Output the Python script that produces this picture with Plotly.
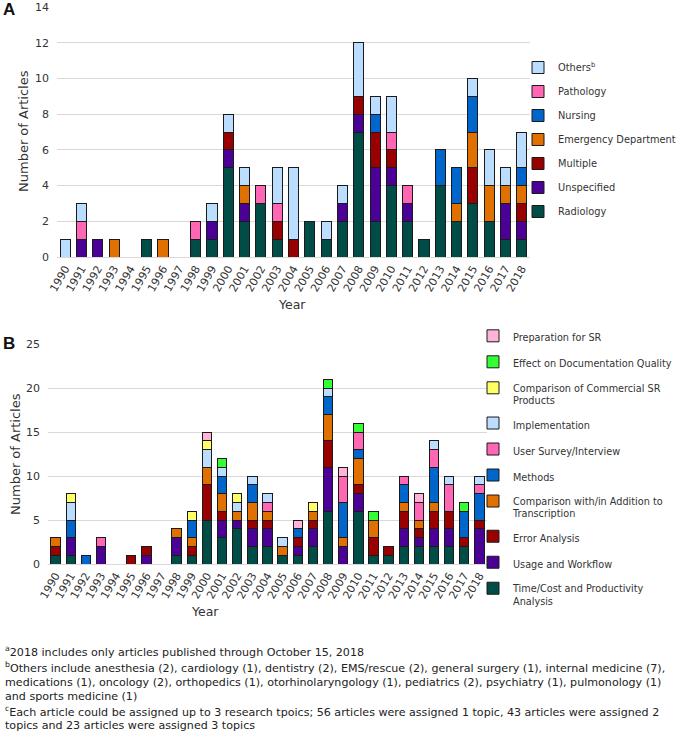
import plotly.graph_objects as go

W, H = 680, 734

years = ["1990", "1991", "1992", "1993", "1994", "1995", "1996", "1997", "1998", "1999",
         "2000", "2001", "2002", "2003", "2004", "2005", "2006", "2007", "2008", "2009",
         "2010", "2011", "2012", "2013", "2014", "2015", "2016", "2017", "2018"]

# ---- Panel A: specialty (stack order bottom -> top)
a_radiology = [0,0,0,0,0,1,0,0,1,1,5,2,3,1,0,2,1,2,7,2,4,2,1,4,2,3,2,1,1]
a_unspecified = [0,1,1,0,0,0,0,0,0,1,1,1,0,0,0,0,0,1,1,3,1,1,0,0,0,0,0,2,1]
a_multiple = [0,0,0,0,0,0,0,0,0,0,1,0,0,1,1,0,0,0,1,2,1,0,0,0,0,2,0,0,1]
a_emergency = [0,0,0,1,0,0,1,0,0,0,0,1,0,0,0,0,0,0,0,0,0,0,0,0,1,2,2,1,1]
a_nursing = [0,0,0,0,0,0,0,0,0,0,0,0,0,0,0,0,0,0,0,1,0,0,0,2,2,2,0,0,1]
a_pathology = [0,1,0,0,0,0,0,0,1,0,0,0,1,1,0,0,0,0,0,0,1,1,0,0,0,0,0,0,0]
a_others = [1,1,0,0,0,0,0,0,0,1,1,1,0,2,4,0,1,1,3,1,2,0,0,0,0,1,2,1,2]

a_names = ["Radiology", "Unspecified", "Multiple", "Emergency Department",
           "Nursing", "Pathology", "Others<sup>b</sup>"]
a_series = [a_radiology, a_unspecified, a_multiple, a_emergency,
            a_nursing, a_pathology, a_others]

# ---- Panel B: research topic (stack order bottom -> top)
b_timecost = [1,1,0,0,0,0,0,0,1,1,5,3,4,2,2,1,1,2,6,0,6,1,1,2,2,2,2,2,0]
b_usage = [0,2,0,2,0,0,1,0,2,0,0,2,1,2,2,0,1,2,5,2,2,0,0,2,1,2,2,0,4]
b_error = [1,0,0,0,0,1,1,0,0,1,4,1,0,1,1,0,1,1,3,0,1,2,1,2,1,2,2,1,1]
b_comp_trans = [1,0,0,0,0,0,0,0,1,1,2,2,1,2,1,1,0,1,3,1,3,2,0,1,1,1,0,0,0]
b_methods = [0,2,1,0,0,0,0,0,0,2,0,2,0,2,0,0,1,0,2,4,1,0,0,2,0,4,0,3,3]
b_survey = [0,0,0,1,0,0,0,0,0,0,0,0,0,0,1,0,0,0,0,3,2,0,0,1,2,2,3,0,1]
b_implementation = [0,2,0,0,0,0,0,0,0,0,2,1,1,1,1,1,0,0,1,0,0,0,0,0,0,1,1,0,1]
b_comp_commercial = [0,1,0,0,0,0,0,0,0,1,1,0,1,0,0,0,0,1,0,0,0,0,0,0,0,0,0,0,0]
b_doc_quality = [0,0,0,0,0,0,0,0,0,0,0,1,0,0,0,0,0,0,1,0,1,1,0,0,0,0,0,1,0]
b_preparation = [0,0,0,0,0,0,0,0,0,0,1,0,0,0,0,0,1,0,0,1,0,0,0,0,1,0,0,0,0]

b_names = ["Time/Cost and Productivity<br>Analysis", "Usage and Workflow", "Error Analysis",
           "Comparison with/in Addition to<br>Transcription", "Methods",
           "User Survey/Interview", "Implementation",
           "Comparison of Commercial SR<br>Products", "Effect on Documentation Quality",
           "Preparation for SR"]
b_series = [b_timecost, b_usage, b_error, b_comp_trans, b_methods, b_survey,
            b_implementation, b_comp_commercial, b_doc_quality, b_preparation]

a_colors = ["#004D47", "#4B0096", "#990000", "#E07000", "#0066CC", "#FF66B3", "#BBDDFF"]
b_colors = ["#004D47", "#4B0096", "#990000", "#E07000", "#0066CC", "#FF66B3", "#BBDDFF",
            "#FFFF66", "#33FF33", "#FFB3D9"]

FONT = "DejaVu Sans"
TXT = "#333333"

fig = go.Figure()
for i, (name, vals, col) in enumerate(zip(a_names, a_series, a_colors)):
    fig.add_bar(x=years, y=[v if v else None for v in vals], name=name,
                marker=dict(color=col, line=dict(color="#1a1a1a", width=1)),
                xaxis="x", yaxis="y", legend="legend", legendgroup="a%d" % i,
                legendrank=100 - i)
for i, (name, vals, col) in enumerate(zip(b_names, b_series, b_colors)):
    fig.add_bar(x=years, y=[v if v else None for v in vals], name=name,
                marker=dict(color=col, line=dict(color="#1a1a1a", width=1)),
                xaxis="x2", yaxis="y2", legend="legend2", legendgroup="b%d" % i,
                legendrank=100 - i)


def px(x):
    return x / W


def py(y):
    return 1 - y / H


axis_common = dict(type="category", categoryorder="array", categoryarray=years,
                   range=[-0.5, 28.5], tickangle=-60, showgrid=False, automargin=False,
                   tickfont=dict(family=FONT, size=11, color=TXT),
                   showline=True, linecolor="#d9d9d9", ticks="")
yaxis_common = dict(showgrid=True, gridcolor="#d9d9d9", gridwidth=1, zeroline=True,
                    zerolinecolor="#d9d9d9", zerolinewidth=1, ticks="", automargin=False,
                    ticklabelstandoff=7,
                    tickfont=dict(family=FONT, size=11, color=TXT))

fig.update_layout(
    width=W, height=H, margin=dict(l=0, r=0, t=0, b=0, autoexpand=False),
    paper_bgcolor="white", plot_bgcolor="white",
    barmode="stack", bargap=0.38,
    font=dict(family=FONT, size=11, color=TXT),
    xaxis=dict(domain=[px(57), px(530)], anchor="y", **axis_common),
    yaxis=dict(domain=[py(257), py(7)], anchor="x", range=[0, 14], dtick=2, **yaxis_common),
    xaxis2=dict(domain=[px(48), px(487)], anchor="y2", **axis_common),
    yaxis2=dict(domain=[py(564), py(344)], anchor="x2", range=[0, 25], dtick=5, **yaxis_common),
    legend=dict(x=px(518), y=py(53), xanchor="left", yanchor="top",
                traceorder="grouped", tracegroupgap=5,
                bgcolor="rgba(0,0,0,0)", font=dict(family=FONT, size=9.8, color=TXT)),
    legend2=dict(x=px(473), y=py(323), xanchor="left", yanchor="top",
                 traceorder="grouped", tracegroupgap=7, valign="top",
                 bgcolor="rgba(0,0,0,0)", font=dict(family=FONT, size=9.7, color=TXT)),
    showlegend=True,
)

ann = []
ann.append(dict(text="<b>A</b>", x=px(1), y=py(9), xanchor="left", yanchor="middle",
                font=dict(family="Liberation Sans", size=17, color="#111")))
ann.append(dict(text="<b>B</b>", x=px(1), y=py(343), xanchor="left", yanchor="middle",
                font=dict(family="Liberation Sans", size=17, color="#111")))
ann.append(dict(text="Number of Articles", x=px(23), y=py(131), textangle=-90,
                xanchor="center", yanchor="middle", font=dict(family=FONT, size=13, color=TXT)))
ann.append(dict(text="Number of Articles", x=px(15), y=py(454), textangle=-90,
                xanchor="center", yanchor="middle", font=dict(family=FONT, size=13, color=TXT)))
ann.append(dict(text="Year", x=px(292), y=py(304), xanchor="center", yanchor="middle",
                font=dict(family=FONT, size=12.5, color=TXT)))
ann.append(dict(text="Year", x=px(205), y=py(611), xanchor="center", yanchor="middle",
                font=dict(family=FONT, size=12.5, color=TXT)))

footnotes = [
    (651, "<sup>a</sup>2018 includes only articles published through October 15, 2018"),
    (667, "<sup>b</sup>Others include anesthesia (2), cardiology (1), dentistry (2), EMS/rescue (2), general surgery (1), internal medicine (7),"),
    (682, "medications (1), oncology (2), orthopedics (1), otorhinolaryngology (1), pediatrics (2), psychiatry (1), pulmonology (1)"),
    (696, "and sports medicine (1)"),
    (711, "<sup>c</sup>Each article could be assigned up to 3 research tpoics; 56 articles were assigned 1 topic, 43 articles were assigned 2"),
    (725, "topics and 23 articles were assigned 3 topics"),
]
for yy, t in footnotes:
    ann.append(dict(text=t, x=px(3), y=py(yy), xanchor="left", yanchor="middle",
                    font=dict(family=FONT, size=11.1, color="#222")))

for a in ann:
    a.update(xref="paper", yref="paper", showarrow=False)
fig.update_layout(annotations=ann)

fig.write_html("out.html", config={"displayModeBar": False},
               post_script="document.body.style.margin='0';")
